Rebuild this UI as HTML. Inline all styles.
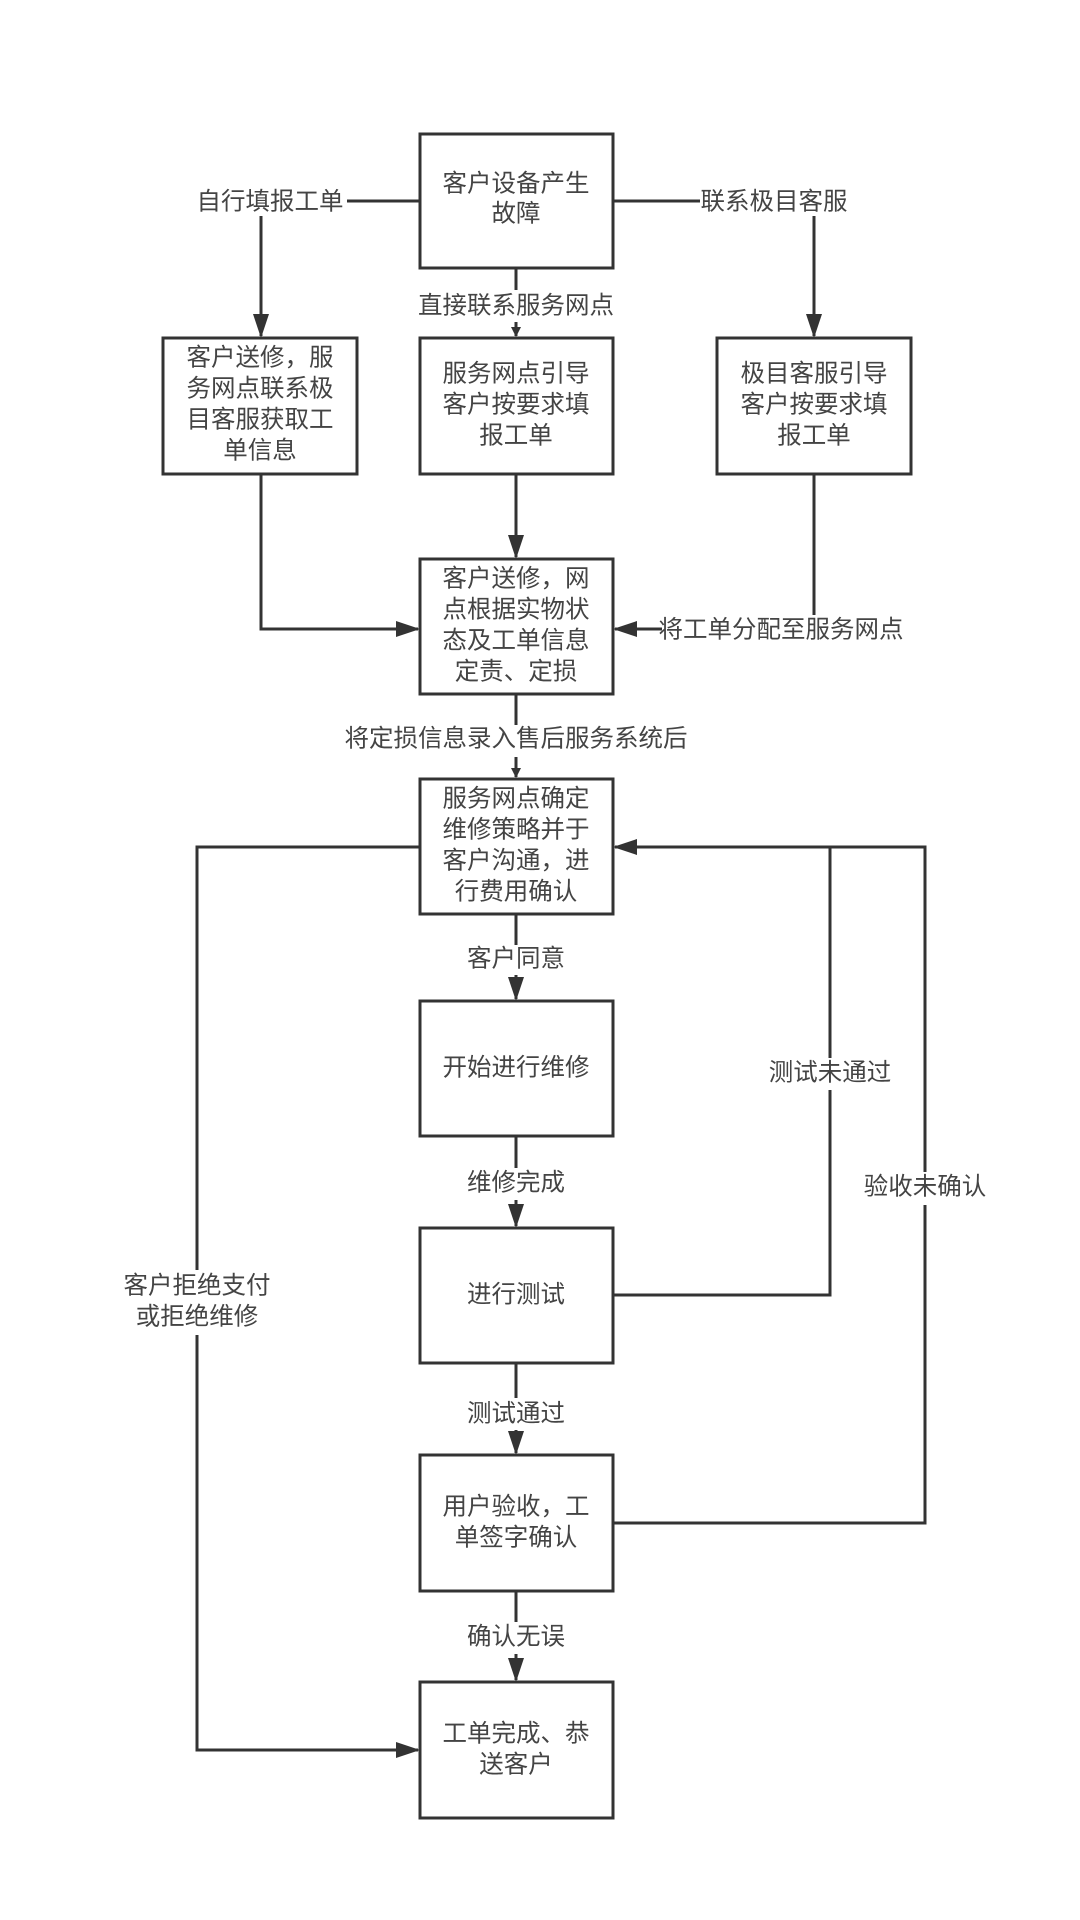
<!DOCTYPE html>
<html><head><meta charset="utf-8"><style>
html,body{margin:0;padding:0;background:#fff;}
svg{display:block}
text{font-family:"Liberation Sans","Noto Sans CJK SC",sans-serif;font-size:24.5px;fill:#444;text-anchor:middle;dominant-baseline:middle}
</style></head><body>
<svg width="1080" height="1920" viewBox="0 0 1080 1920">
<defs><marker id="a" markerWidth="10" markerHeight="10" refX="9" refY="5" orient="auto" markerUnits="userSpaceOnUse"><path d="M0,0 L10,5 L0,10 z" fill="#333"/></marker>
<marker id="b" markerWidth="24" markerHeight="16" refX="22" refY="8" orient="auto" markerUnits="userSpaceOnUse"><path d="M0,0 L24,8 L0,16 z" fill="#333"/></marker></defs>
<g fill="none" stroke="#333" stroke-width="3">
<rect x="420" y="134" width="193" height="134"/>
<rect x="163" y="338" width="194" height="136"/>
<rect x="420" y="338" width="193" height="136"/>
<rect x="717" y="338" width="194" height="136"/>
<rect x="420" y="559" width="193" height="135"/>
<rect x="420" y="779" width="193" height="135"/>
<rect x="420" y="1001" width="193" height="135"/>
<rect x="420" y="1228" width="193" height="135"/>
<rect x="420" y="1455" width="193" height="136"/>
<rect x="420" y="1682" width="193" height="136"/>
<path d="M420 201 H347"/><path d="M261 216 V336" marker-end="url(#b)"/>
<path d="M613 201 H700"/><path d="M814 216 V336" marker-end="url(#b)"/>
<path d="M516 268 V290"/><path d="M516 322 V336" marker-end="url(#a)"/>
<path d="M516 474 V557" marker-end="url(#b)"/>
<path d="M261 474 V629 H418" marker-end="url(#b)"/>
<path d="M814 474 V615"/><path d="M662 629 H615" marker-end="url(#b)"/>
<path d="M516 694 V725"/><path d="M516 757 V777" marker-end="url(#a)"/>
<path d="M516 914 V945"/><path d="M516 975 V999" marker-end="url(#b)"/>
<path d="M516 1136 V1168"/><path d="M516 1200 V1226" marker-end="url(#b)"/>
<path d="M516 1363 V1398"/><path d="M516 1430 V1453" marker-end="url(#b)"/>
<path d="M516 1591 V1622"/><path d="M516 1654 V1680" marker-end="url(#b)"/>
<path d="M420 847 H197 V1270"/><path d="M197 1335 V1750 H418" marker-end="url(#b)"/>
<path d="M613 1295 H830 V1090"/><path d="M830 1058 V847"/>
<path d="M613 1523 H925 V1205"/><path d="M925 1172 V847 H615" marker-end="url(#b)"/>
</g>
<text x="516" y="185">客户设备产生</text><text x="516" y="215">故障</text>
<text x="270" y="203">自行填报工单</text>
<text x="774" y="203">联系极目客服</text>
<text x="516" y="307">直接联系服务网点</text>
<text x="260" y="359">客户送修，服</text><text x="260" y="390">务网点联系极</text><text x="260" y="421">目客服获取工</text><text x="260" y="452">单信息</text>
<text x="516" y="375">服务网点引导</text><text x="516" y="406">客户按要求填</text><text x="516" y="437">报工单</text>
<text x="814" y="375">极目客服引导</text><text x="814" y="406">客户按要求填</text><text x="814" y="437">报工单</text>
<text x="516" y="580">客户送修，网</text><text x="516" y="611">点根据实物状</text><text x="516" y="642">态及工单信息</text><text x="516" y="673">定责、定损</text>
<text x="781" y="631">将工单分配至服务网点</text>
<text x="516" y="740">将定损信息录入售后服务系统后</text>
<text x="516" y="800">服务网点确定</text><text x="516" y="831">维修策略并于</text><text x="516" y="862">客户沟通，进</text><text x="516" y="893">行费用确认</text>
<text x="516" y="960">客户同意</text>
<text x="516" y="1069">开始进行维修</text>
<text x="516" y="1184">维修完成</text>
<text x="516" y="1296">进行测试</text>
<text x="516" y="1415">测试通过</text>
<text x="516" y="1508">用户验收，工</text><text x="516" y="1539">单签字确认</text>
<text x="516" y="1638">确认无误</text>
<text x="516" y="1735">工单完成、恭</text><text x="516" y="1766">送客户</text>
<text x="830" y="1074">测试未通过</text>
<text x="925" y="1188">验收未确认</text>
<text x="197" y="1287">客户拒绝支付</text><text x="197" y="1318">或拒绝维修</text>
</svg>
</body></html>
